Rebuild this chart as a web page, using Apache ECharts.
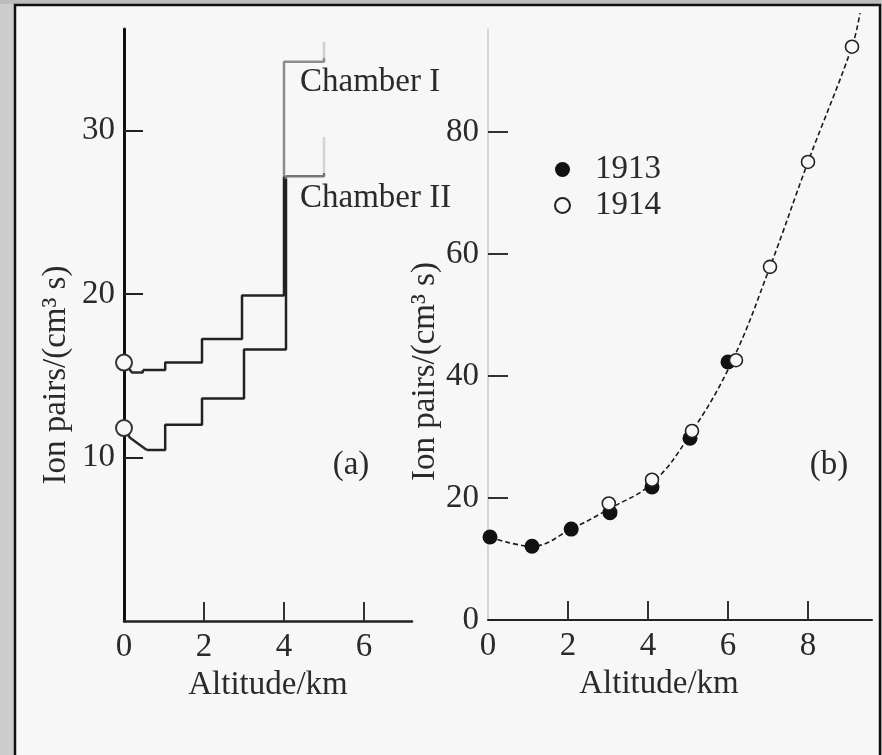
<!DOCTYPE html>
<html><head><meta charset="utf-8">
<script src="https://cdn.jsdelivr.net/npm/echarts@6/dist/echarts.min.js"></script>
<style>html,body{margin:0;padding:0;background:#cfcfcf}#c{width:882px;height:755px}</style>
</head><body><div id="c"></div>
<script>
// ---------- Panel (a): ionisation steps of the two chambers ----------
const chamberILeadX = [0, 0.2, 0.47, 0.47];
const chamberILeadY = [15.8, 15.2, 15.2, 15.35];
const chamberIStepX = [0.47, 1.03, 1.95, 2.95, 4.0, 5.0];
const chamberIStepY = [15.35, 15.8, 17.25, 19.9, 34.2, 35.4];
const chamberIILeadX = [0, 0.15, 0.57];
const chamberIILeadY = [11.8, 11.2, 10.45];
const chamberIIStepX = [0.57, 1.03, 1.95, 3.0, 4.05, 5.0];
const chamberIIStepY = [10.45, 12.0, 13.6, 16.6, 27.2, 29.6];
const startCircleX = [0, 0];
const startCircleY = [15.8, 11.8];

// ---------- Panel (b): balloon flights ----------
const flights1913X = [0.05, 1.1, 2.08, 3.05, 4.1, 5.05, 6.0];
const flights1913Y = [13.6, 12.1, 14.9, 17.6, 21.8, 29.8, 42.3];
const flights1914X = [3.02, 4.1, 5.1, 6.2, 7.05, 8.0, 9.1];
const flights1914Y = [19.1, 23.0, 31.0, 42.6, 57.9, 75.1, 94.0];
const curveX = [0.05, 1.1, 2.08, 3.05, 4.1, 5.05, 6.1, 7.05, 8.0, 9.1, 9.3];
const curveY = [13.6, 12.1, 14.9, 18.3, 22.4, 30.4, 42.4, 57.9, 75.1, 94.0, 99.5];

// ---------- Ticks / labels ----------
const aYTicks = [10, 20, 30];
const aXTicks = [2, 4, 6];
const aXLabels = [0, 2, 4, 6];
const bYTicks = [20, 40, 60, 80];
const bYLabels = [0, 20, 40, 60, 80];
const bXTicks = [2, 4, 6, 8];
const bXLabels = [0, 2, 4, 6, 8];

const zip = (xs, ys) => xs.map((x, i) => [x, ys[i]]);
const FONT = "'Liberation Serif','Times New Roman',serif";
const FS = 33;
const TXT = '#2a2a2a';

const chart = echarts.init(document.getElementById('c'));
const axisFont = {fontFamily: FONT, fontSize: FS, color: TXT};

const chamberIColor = new echarts.graphic.LinearGradient(0, 0, 0, 1, [
  {offset: 0, color: '#cfcfcf'}, {offset: 0.055, color: '#cfcfcf'},
  {offset: 0.056, color: '#8c8c8c'}, {offset: 0.41, color: '#8c8c8c'},
  {offset: 0.415, color: '#222'}, {offset: 1, color: '#222'}]);
const chamberIIColor = new echarts.graphic.LinearGradient(0, 0, 0, 1, [
  {offset: 0, color: '#d4d4d4'}, {offset: 0.12, color: '#d4d4d4'},
  {offset: 0.121, color: '#777'}, {offset: 0.14, color: '#777'},
  {offset: 0.141, color: '#222'}, {offset: 1, color: '#222'}]);

chart.setOption({
  backgroundColor: '#f7f7f7',
  animation: false,
  textStyle: {fontFamily: FONT},
  grid: [
    {left: 124, top: 29, width: 288, height: 592},
    {left: 488, top: 29, width: 384, height: 591}
  ],
  xAxis: [
    {type: 'value', gridIndex: 0, min: 0, max: 7.2,
     axisLine: {lineStyle: {color: '#222', width: 2.5}},
     axisTick: {inside: true, length: 19, customValues: aXTicks, lineStyle: {color: '#333', width: 2}},
     axisLabel: {customValues: aXLabels, margin: 10, ...axisFont},
     splitLine: {show: false},
     name: 'Altitude/km', nameLocation: 'middle', nameGap: 46, nameTextStyle: axisFont},
    {type: 'value', gridIndex: 1, min: 0, max: 9.6,
     axisLine: {lineStyle: {color: '#222', width: 2}},
     axisTick: {inside: true, length: 19, customValues: bXTicks, lineStyle: {color: '#333', width: 2}},
     axisLabel: {customValues: bXLabels, margin: 10, ...axisFont},
     splitLine: {show: false},
     name: 'Altitude/km', nameLocation: 'middle', nameGap: 48,
     nameTextStyle: {...axisFont, padding: [0, 42, 0, 0]}}
  ],
  yAxis: [
    {type: 'value', gridIndex: 0, min: 0, max: 36.2,
     axisLine: {show: true, lineStyle: {color: '#111', width: 3}},
     axisTick: {show: true, inside: true, length: 19, customValues: aYTicks, lineStyle: {color: '#222', width: 2}},
     axisLabel: {customValues: aYTicks, margin: 9, ...axisFont},
     splitLine: {show: false},
     name: 'Ion pairs/(cm³ s)', nameLocation: 'middle', nameRotate: 90, nameGap: 51,
     nameTextStyle: {...axisFont, padding: [0, 100, 0, 0]}},
    {type: 'value', gridIndex: 1, min: 0, max: 96.9,
     axisLine: {show: true, lineStyle: {color: '#cacaca', width: 1.5}},
     axisTick: {show: true, inside: true, length: 20, customValues: bYTicks, lineStyle: {color: '#333', width: 2}},
     axisLabel: {customValues: bYLabels, margin: 9, ...axisFont},
     splitLine: {show: false},
     name: 'Ion pairs/(cm³ s)', nameLocation: 'middle', nameRotate: 90, nameGap: 46,
     nameTextStyle: {...axisFont, padding: [0, 94, 0, 0]}}
  ],
  legend: {
    data: ['1913', '1914'], orient: 'vertical', left: 549, top: 148,
    itemWidth: 15, itemHeight: 15, itemGap: 3, selectedMode: false,
    textStyle: {...axisFont, padding: [0, 0, 0, 20]}
  },
  graphic: [
    {type: 'rect', left: 0, top: 0, shape: {width: 14, height: 755}, style: {fill: '#cdcdcd'}, silent: true},
    {type: 'rect', left: 0, top: 0, shape: {width: 882, height: 4}, style: {fill: '#bdbdbd'}, silent: true},
    {type: 'rect', left: 881, top: 0, shape: {width: 1, height: 755}, style: {fill: '#cdcdcd'}, silent: true},
    {type: 'rect', x: 15, y: 5, shape: {width: 865, height: 770}, style: {fill: null, stroke: '#111', lineWidth: 2.5}, silent: true},
    {type: 'text', x: 300, y: 82, style: {text: 'Chamber I', font: FS + 'px ' + FONT, fill: TXT, verticalAlign: 'middle'}},
    {type: 'text', x: 300, y: 198, style: {text: 'Chamber II', font: FS + 'px ' + FONT, fill: TXT, verticalAlign: 'middle'}},
    {type: 'text', x: 351, y: 465, style: {text: '(a)', font: FS + 'px ' + FONT, fill: TXT, align: 'center', verticalAlign: 'middle'}},
    {type: 'text', x: 829, y: 465, style: {text: '(b)', font: FS + 'px ' + FONT, fill: TXT, align: 'center', verticalAlign: 'middle'}}
  ],
  series: [
    {type: 'line', name: 'Chamber I lead', xAxisIndex: 0, yAxisIndex: 0, data: zip(chamberILeadX, chamberILeadY),
     showSymbol: false, clip: false, lineStyle: {color: '#2a2a2a', width: 2.5}},
    {type: 'line', name: 'Chamber I', xAxisIndex: 0, yAxisIndex: 0, step: 'end', data: zip(chamberIStepX, chamberIStepY),
     showSymbol: false, clip: false, lineStyle: {color: chamberIColor, width: 2.5}},
    {type: 'line', name: 'Chamber II lead', xAxisIndex: 0, yAxisIndex: 0, data: zip(chamberIILeadX, chamberIILeadY),
     showSymbol: false, clip: false, lineStyle: {color: '#2a2a2a', width: 2.5}},
    {type: 'line', name: 'Chamber II', xAxisIndex: 0, yAxisIndex: 0, step: 'end', data: zip(chamberIIStepX, chamberIIStepY),
     showSymbol: false, clip: false, lineStyle: {color: chamberIIColor, width: 2.5}},
    {type: 'scatter', name: 'ground', xAxisIndex: 0, yAxisIndex: 0, data: zip(startCircleX, startCircleY),
     symbolSize: 16, clip: false, z: 5, itemStyle: {color: '#f7f7f7', borderColor: '#333', borderWidth: 2, opacity: 1}},
    {type: 'line', name: 'fit', xAxisIndex: 1, yAxisIndex: 1, data: zip(curveX, curveY), smooth: 0.4,
     showSymbol: false, clip: false, lineStyle: {color: '#1a1a1a', width: 1.6, type: [5, 3]}},
    {type: 'scatter', name: '1913', xAxisIndex: 1, yAxisIndex: 1, data: zip(flights1913X, flights1913Y),
     symbol: 'circle', symbolSize: 15, clip: false, z: 4, itemStyle: {color: '#111', opacity: 1}},
    {type: 'scatter', name: '1914', xAxisIndex: 1, yAxisIndex: 1, data: zip(flights1914X, flights1914Y),
     symbol: 'circle', symbolSize: 13, clip: false, z: 5, itemStyle: {color: '#f7f7f7', borderColor: '#222', borderWidth: 1.6, opacity: 1}}
  ]
});
</script></body></html>
